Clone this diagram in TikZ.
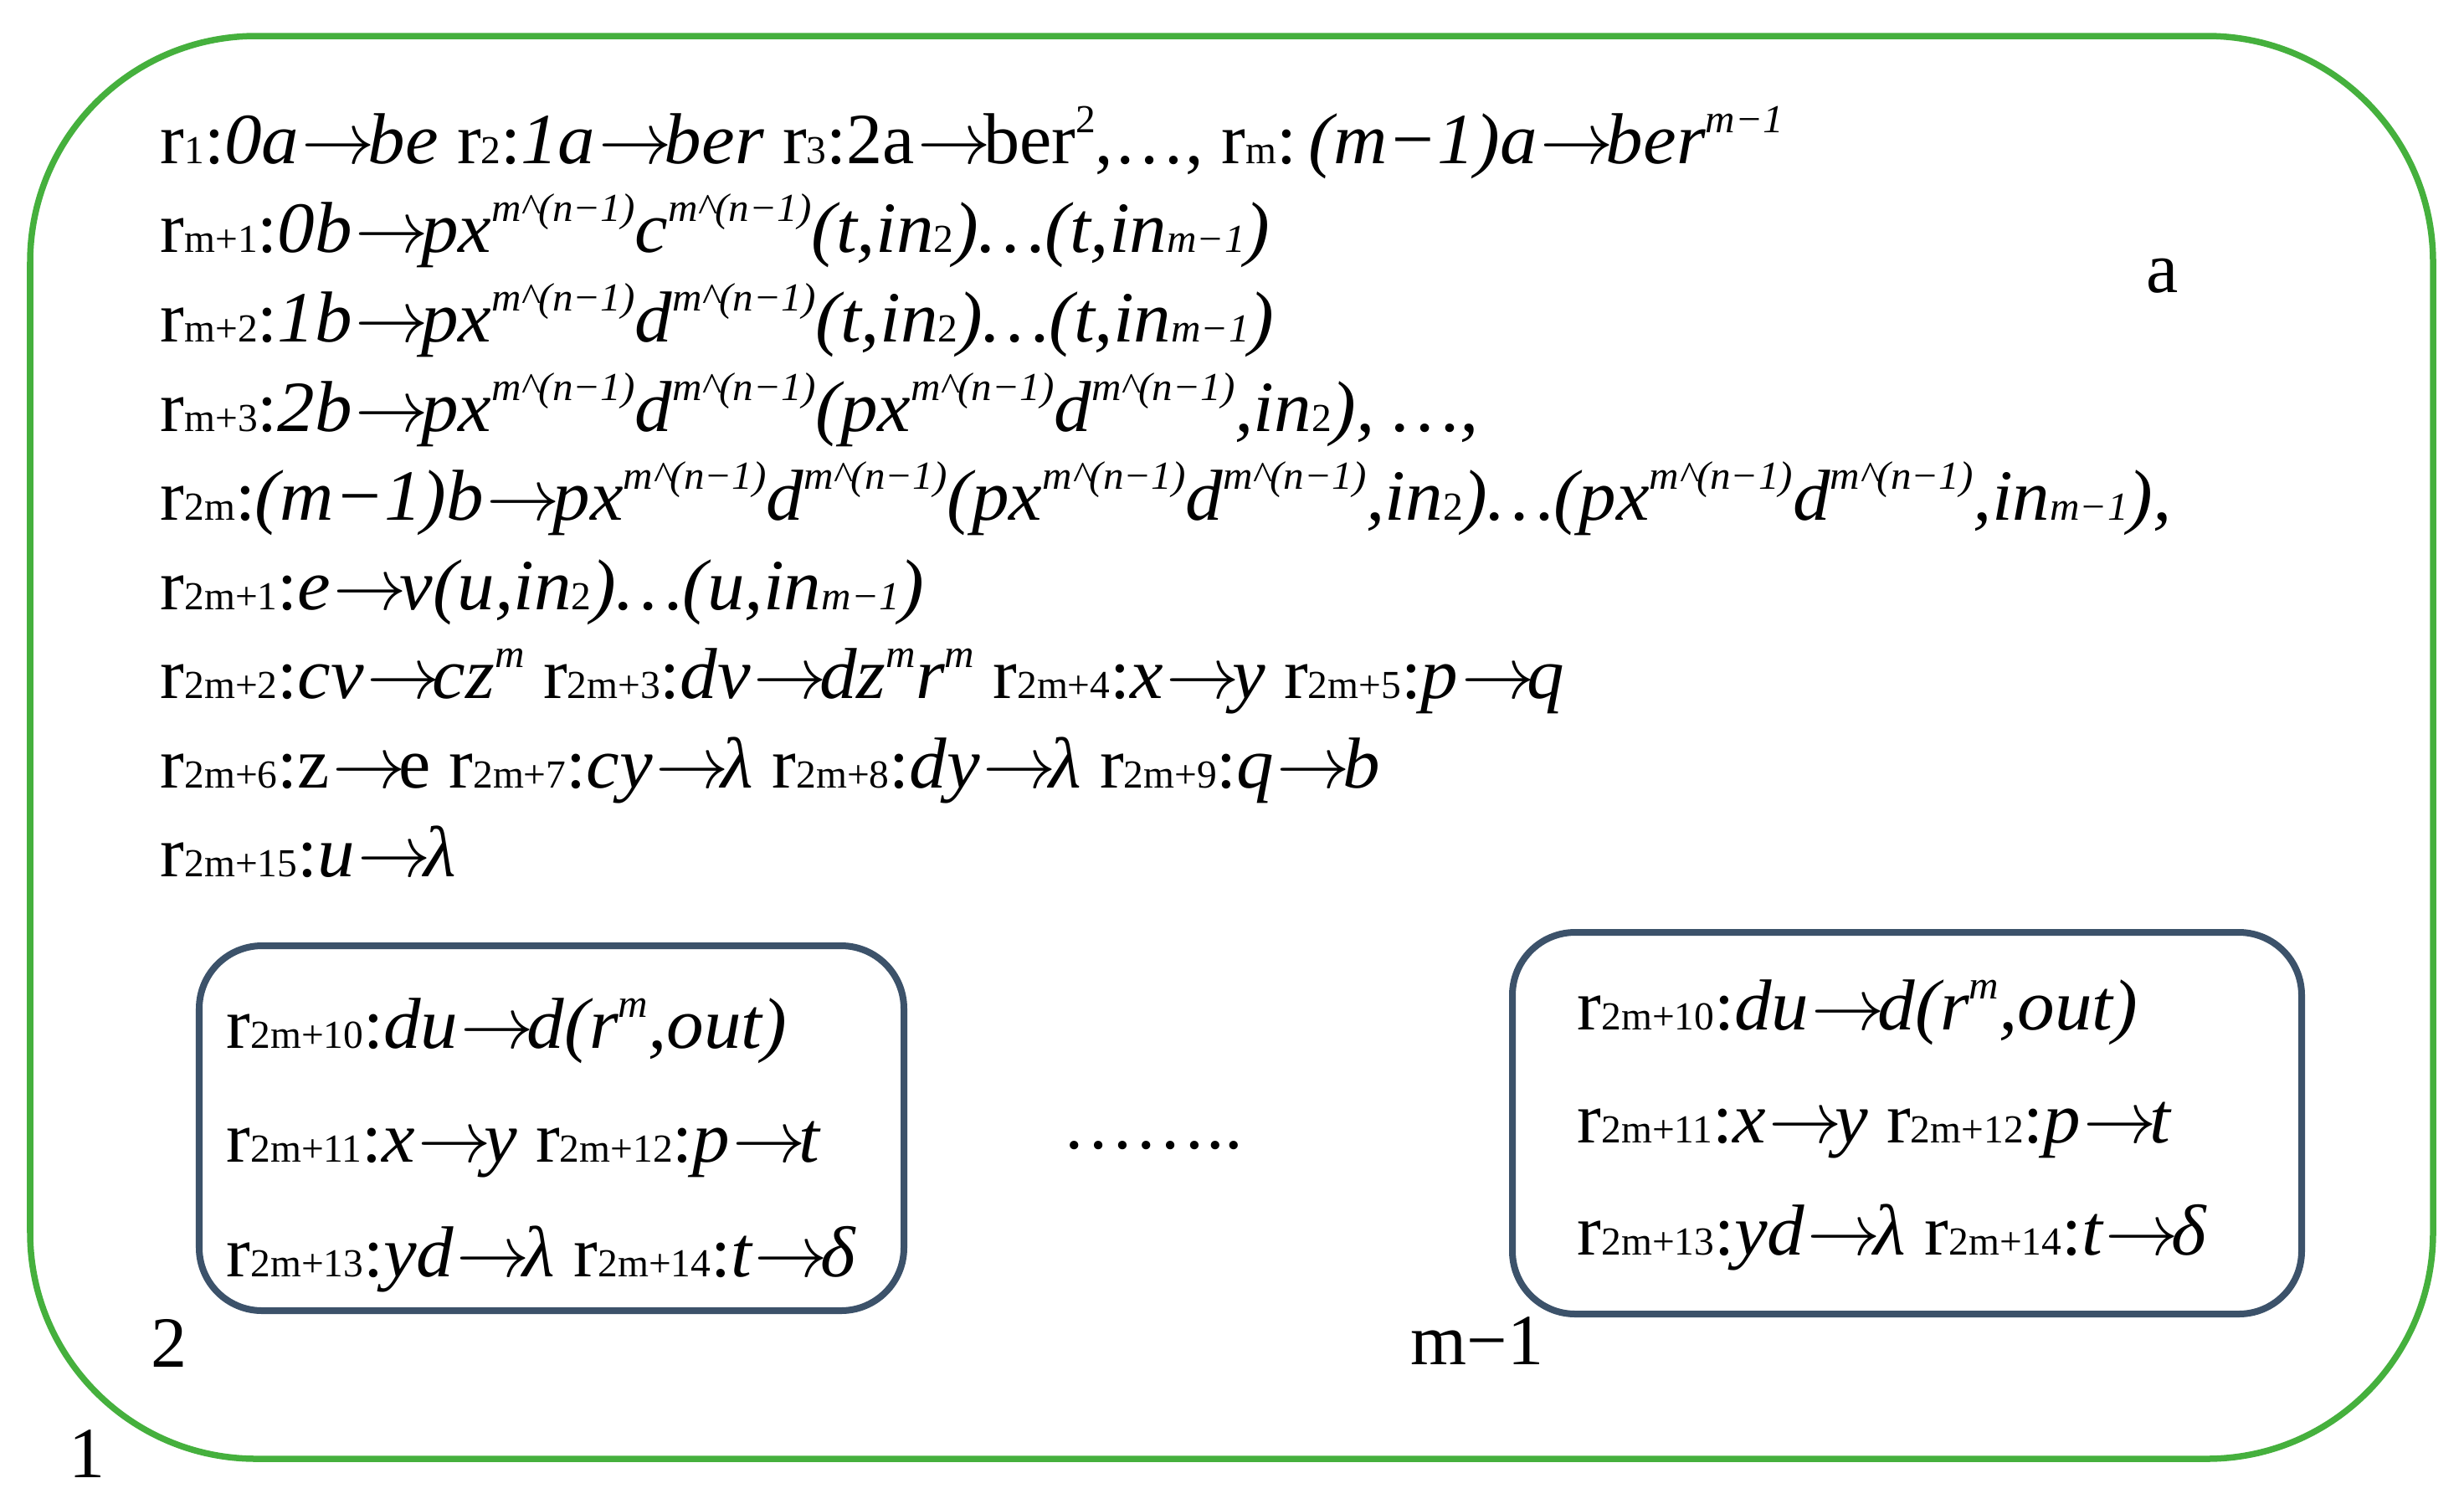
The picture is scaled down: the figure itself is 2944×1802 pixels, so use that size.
\documentclass[tikz,border=0pt]{standalone}
\usepackage{fontspec}
\setmainfont{Liberation Serif}[ItalicFeatures={FakeStretch=1.035}]
\definecolor{outergreen}{RGB}{69,176,61}
\definecolor{innerblue}{RGB}{60,82,106}
\newcommand\sub[1]{{\fontsize{13.5}{14}\selectfont\upshape #1}}
\newcommand\spr[1]{\raisebox{0.42em}{\fontsize{13.5}{14}\selectfont #1}}
\newcommand\R[1]{{\upshape r\sub{#1}:}}
\newcommand\ar{\kern0.04em$\rightarrow$\kern-0.1em}
\newcommand\mn{m\textasciicircum(n−1)}
\newcommand\pxd{px\spr{\mn}d\spr{\mn}}
\begin{document}
\begin{tikzpicture}[x=0.01cm,y=-0.01cm,
  rule/.style={anchor=base west,inner sep=0pt,font=\fontsize{24.5}{29}\selectfont\itshape},
  lab/.style={anchor=base,inner sep=0pt,font=\fontsize{24.5}{29}\selectfont},
  outer/.style={draw=outergreen,line width=0.075cm,rounded corners=2.7cm},
  inner/.style={draw=innerblue,line width=0.08cm,rounded corners=0.75cm}]
\useasboundingbox (0,0) rectangle (2944,1802);
% outer membrane
\draw[outer] (36,43) rectangle (2907,1743);
% inner membranes
\draw[inner] (238,1130) rectangle (1080,1566);
\draw[inner] (1807,1114) rectangle (2750,1570);
% main rules
\node[rule] (l1) at (191,195) {\R{1}0a\ar be \R{2}1a\ar ber {\upshape\R{3}2a\ar ber\spr{2},…, r\sub{m}:\,}(m−1)a\ar ber\spr{m−1}};
\node[rule] (l2) at (191,301) {\R{m+1}0b\ar px\spr{\mn}c\spr{\mn}(t,in\sub{2})…(t,in\sub{\itshape m−1})};
\node[rule] (l3) at (191,408) {\R{m+2}1b\ar \pxd(t,in\sub{2})…(t,in\sub{\itshape m−1})};
\node[rule] (l4) at (191,515) {\R{m+3}2b\ar \pxd(\pxd,in\sub{2}), …,};
\node[rule] (l5) at (191,621) {\R{2m}(m−1)b\ar \pxd(\pxd,in\sub{2})…(\pxd,in\sub{\itshape m−1}),};
\node[rule] (l6) at (191,728) {\R{2m+1}e\ar v(u,in\sub{2})…(u,in\sub{\itshape m−1})};
\node[rule] (l7) at (191,834) {\R{2m+2}cv\ar cz\spr{m} \R{2m+3}dv\ar dz\spr{m}r\spr{m} \R{2m+4}x\ar y \R{2m+5}p\ar q};
\node[rule] (l8) at (191,941) {\R{2m+6}{\upshape z\ar e} \R{2m+7}cy\ar λ \R{2m+8}dy\ar λ \R{2m+9}q\ar b};
\node[rule] (l9) at (191,1047) {\R{2m+15}u\ar λ};
% membrane 2 rules
\node[rule] (b21) at (270,1252) {\R{2m+10}du\ar d(r\spr{m},out)};
\node[rule] (b22) at (270,1388) {\R{2m+11}x\ar y \R{2m+12}p\ar t};
\node[rule] (b23) at (270,1525) {\R{2m+13}yd\ar λ \R{2m+14}t\ar δ};
% membrane m-1 rules
\node[rule] (bm1) at (1884,1230) {\R{2m+10}du\ar d(r\spr{m},out)};
\node[rule] (bm2) at (1884,1365) {\R{2m+11}x\ar y \R{2m+12}p\ar t};
\node[rule] (bm3) at (1884,1499) {\R{2m+13}yd\ar λ \R{2m+14}t\ar δ};
% labels
\node[lab] (la) at (2584,349) {a};
\node[lab] (dots) at (1377,1372) {……..};
\node[lab] (l2lab) at (202,1633) {2};
\node[lab] (lm1) at (1765,1630) {m−1};
\node[lab] (l1lab) at (104,1765) {1};
\end{tikzpicture}
\end{document}
